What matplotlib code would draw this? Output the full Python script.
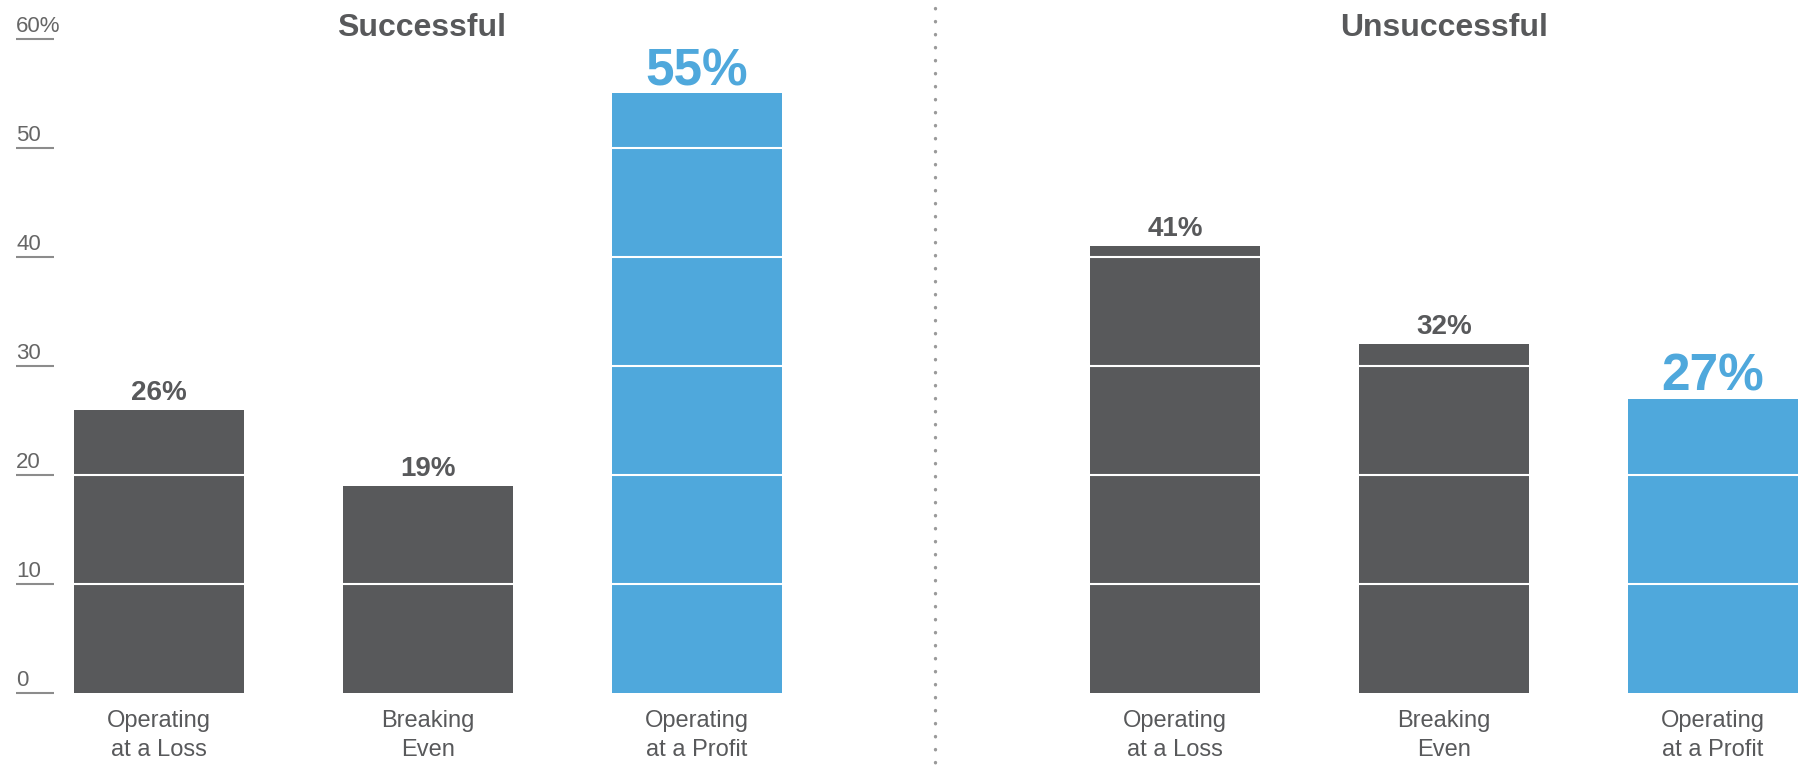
import matplotlib
matplotlib.use("Agg")
import matplotlib.pyplot as plt
import numpy as np

# --- data -------------------------------------------------------------
groups = ["Successful", "Unsuccessful"]
categories = ["Operating\nat a Loss", "Breaking\nEven", "Operating\nat a Profit"]
successful = [26, 19, 55]
unsuccessful = [41, 32, 27]
y_ticks = [0, 10, 20, 30, 40, 50, 60]
highlight = "Operating\nat a Profit"

# --- style ------------------------------------------------------------
GRAY = "#58595B"
BLUE = "#4FA8DC"
TEXT = "#58595B"
AXIS = "#8C8C8C"
plt.rcParams["font.family"] = ["Liberation Sans", "DejaVu Sans"]

W, H, DPI = 1800, 767, 100
fig = plt.figure(figsize=(W / DPI, H / DPI), dpi=DPI)
ax = fig.add_axes([0, 0, 1, 1])
ax.set_axis_off()

# layout in pixels -> data units
x0_px, step_px = 158.5, 269.1          # first bar centre, bar spacing
y0_px, unit_px = 693.4, 10.91          # baseline, pixels per percent
group_gap = 3.777                      # offset of second group (in bar steps)
ax.set_xlim(-x0_px / step_px, (W - x0_px) / step_px)
ax.set_ylim(-(H - y0_px) / unit_px, y0_px / unit_px)

bar_w = 170 / step_px
series = [successful, unsuccessful]

for g, (title, vals) in enumerate(zip(groups, series)):
    xs = np.arange(len(categories)) + g * group_gap
    colors = [BLUE if c == highlight else GRAY for c in categories]
    ax.bar(xs, vals, width=bar_w, color=colors, zorder=2, linewidth=0)
    for x, v, c, col in zip(xs, vals, categories, colors):
        big = c == highlight
        ax.text(x, v + (0.75 if big else 0.9), f"{v}%",
                ha="center", va="baseline",
                fontsize=37 if big else 20, fontweight="bold", color=col,
                zorder=5)
        # two-line category label; baseline refers to the last line here
        ax.text(x, -5.74, c, ha="center", va="baseline", fontsize=17,
                color=TEXT, linespacing=1.43, multialignment="center")
    # group title
    tx = xs[1] - (6 / step_px if g == 0 else 0)
    ax.text(tx, 60.26, title, ha="center", va="baseline", fontsize=23,
            fontweight="bold", color=TEXT)

# white gridlines cutting through the bars
for t in y_ticks[1:-1]:
    ax.axhline(t, color="white", linewidth=1.5, zorder=3)

# y axis: short rules with labels sitting on top of them
tick_l = (16 - x0_px) / step_px
tick_r = (54 - x0_px) / step_px
for t in y_ticks:
    ax.plot([tick_l, tick_r], [t, t], color=AXIS, linewidth=1.5,
            solid_capstyle="butt", zorder=4)
    label = f"{t}%" if t == y_ticks[-1] else f"{t}"
    ax.text(tick_l, t + 0.64, label, ha="left", va="baseline",
            fontsize=16, color="#666666", zorder=4)

# dotted divider between the two groups
div_x = (935 - x0_px) / step_px
ax.plot([div_x, div_x], [(y0_px - 8) / unit_px, -(H - y0_px) / unit_px],
        color="#9A9A9A", linewidth=2.4, linestyle=(0, (0.1, 3.8)),
        dash_capstyle="round", zorder=6)

fig.savefig("out.png", dpi=DPI, facecolor="white")
